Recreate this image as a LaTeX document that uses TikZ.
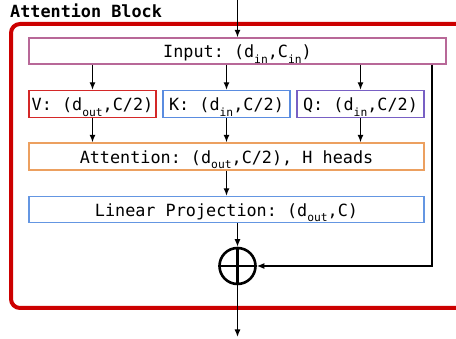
\documentclass[tikz,border=0pt]{standalone}
\usepackage{fontspec}
\setmainfont{DejaVu Sans Mono}
\usetikzlibrary{arrows.meta}
\frenchspacing
\newcommand\sbs[1]{\raisebox{-5.5pt}{\fontsize{11.3}{12}\selectfont #1}}
\definecolor{borderred}{RGB}{204,0,0}
\definecolor{inpc}{RGB}{184,104,152}
\definecolor{vred}{RGB}{212,40,40}
\definecolor{kblue}{RGB}{90,140,224}
\definecolor{qpurple}{RGB}{120,96,196}
\definecolor{attorange}{RGB}{236,160,96}
\definecolor{linblue}{RGB}{100,150,226}
\tikzset{
  box/.style={draw, line width=1.3pt, rectangle, inner sep=0pt, text height=14pt, text depth=0pt,
    font=\fontsize{16.8}{20}\selectfont, minimum height=26pt},
  arr/.style={line width=1.3pt, -{Latex[length=7.5pt,width=6pt]}},
}
\begin{document}
\begin{tikzpicture}[x=1pt,y=-1pt]
\useasboundingbox (0,0) rectangle (456,339);
\clip (0,0) rectangle (456,339);
\fill[white] (0,0) rectangle (456,339);
\node[anchor=base west, inner sep=0pt, font=\fontsize{16.8}{20}\selectfont\bfseries] (title) at (10,17.5) {Attention Block};
\draw[borderred, line width=4pt, rounded corners=9pt] (11,24) rectangle (475,308);
\node[box, draw=inpc, minimum width=417pt] (inp) at (237.5,51) {Input: (d\sbs{in},C\sbs{in})};
\node[box, draw=vred, minimum width=127pt, minimum height=27pt] (v) at (92.5,104) {V: (d\sbs{out},C/2)};
\node[box, draw=kblue, minimum width=127pt, minimum height=27pt] (k) at (226.5,104) {K: (d\sbs{in},C/2)};
\node[box, draw=qpurple, minimum width=127pt, minimum height=27pt] (q) at (360.5,104) {Q: (d\sbs{in},C/2)};
\node[box, draw=attorange, minimum width=395pt, minimum height=27pt] (att) at (226.5,156.5) {Attention: (d\sbs{out},C/2), H heads};
\node[box, draw=linblue, minimum width=395pt] (lin) at (226.5,209.5) {Linear Projection: (d\sbs{out},C)};
\node[draw, circle, line width=2.6pt, minimum size=36pt, inner sep=0pt] (op) at (237.5,266) {};
\draw[line width=2.6pt] (op.north) -- (op.south) (op.west) -- (op.east);
\coordinate (topin) at (237.5,0);
\coordinate (sk) at (432,0);
\coordinate (out) at (237.5,337);
\draw[arr] (topin) -- (inp.north);
\draw[arr] (inp.south -| v.north) -- (v.north);
\draw[arr] (inp.south -| k.north) -- (k.north);
\draw[arr] (inp.south -| q.north) -- (q.north);
\draw[arr] (v.south) -- (v.south |- att.north);
\draw[arr] (k.south) -- (k.south |- att.north);
\draw[arr] (q.south) -- (q.south |- att.north);
\draw[arr] (att.south) -- (att.south |- lin.north);
\draw[arr] (lin.south -| op.north) -- (op.north);
\draw[arr] (inp.south -| sk) |- (op.east);
\draw[arr] (op.south) -- (out);
\end{tikzpicture}
\end{document}
